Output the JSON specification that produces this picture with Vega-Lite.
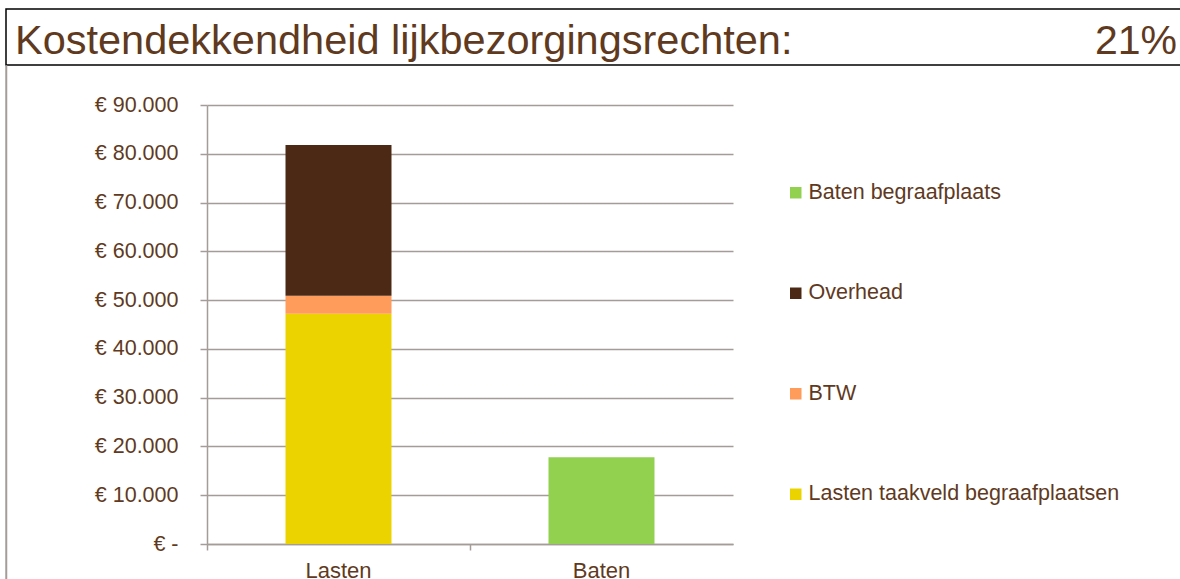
{
  "$schema": "https://vega.github.io/schema/vega-lite/v6.json",
  "autosize": {"type": "none"},
  "padding": {"left": 6, "top": 9, "right": 1174, "bottom": 570},
  "config": {
    "font": "Liberation Sans",
    "locale": {"number": {"decimal": ",", "thousands": ".", "grouping": [3], "currency": ["€ ", ""]}},
    "view": {"stroke": null},
    "axis": {
      "labelFont": "Liberation Sans",
      "labelColor": "#5F3A1E",
      "labelFontSize": 21.5,
      "domainColor": "#A39C99",
      "tickColor": "#A39C99",
      "gridColor": "#A39C99",
      "domainWidth": 1.5,
      "tickWidth": 1.5,
      "gridWidth": 1.5,
      "title": null
    },
    "legend": {
      "labelFont": "Liberation Sans",
      "labelColor": "#5F3A1E",
      "labelFontSize": 21.5,
      "labelLimit": 500
    }
  },
  "spacing": -1.5,
  "vconcat": [
    {
      "width": 1180,
      "height": 56,
      "view": {"stroke": "#000000", "strokeWidth": 1.5},
      "layer": [
        {
          "data": {"values": [{"tekst": "Kostendekkendheid lijkbezorgingsrechten:"}]},
          "mark": {"type": "text", "align": "left", "baseline": "alphabetic", "dx": 9, "fontSize": 41.5, "color": "#5F3A1E", "font": "Liberation Sans"},
          "encoding": {
            "x": {"datum": 0, "type": "quantitative", "scale": {"domain": [0, 1]}, "axis": null},
            "y": {"datum": 0.196, "type": "quantitative", "scale": {"domain": [0, 1]}, "axis": null},
            "text": {"field": "tekst"}
          }
        },
        {
          "data": {"values": [{"tekst": "21%"}]},
          "mark": {"type": "text", "align": "right", "baseline": "alphabetic", "dx": -9, "fontSize": 41, "color": "#5F3A1E", "font": "Liberation Sans"},
          "encoding": {
            "x": {"datum": 1, "type": "quantitative", "scale": {"domain": [0, 1]}, "axis": null},
            "y": {"datum": 0.196, "type": "quantitative", "scale": {"domain": [0, 1]}, "axis": null},
            "text": {"field": "tekst"}
          }
        }
      ]
    },
    {
      "spacing": 0,
      "hconcat": [
        {
          "width": 0.5,
          "height": 520,
          "view": {"stroke": "#A39C99", "strokeWidth": 1.5},
          "data": {"values": []},
          "mark": {"type": "text"},
          "encoding": {}
        },
        {
          "spacing": 27,
          "vconcat": [
            {
              "width": 1,
              "height": 1,
              "data": {"values": []},
              "mark": {"type": "text"},
              "encoding": {}
            },
            {
              "width": 526,
              "height": 439,
              "data": {
                "values": [
                  {"kant": "Lasten", "post": "Lasten taakveld begraafplaatsen", "bedrag": 47200, "volgorde": 1},
                  {"kant": "Lasten", "post": "BTW", "bedrag": 3700, "volgorde": 2},
                  {"kant": "Lasten", "post": "Overhead", "bedrag": 30900, "volgorde": 3},
                  {"kant": "Baten", "post": "Baten begraafplaats", "bedrag": 17800, "volgorde": 1}
                ]
              },
              "mark": {"type": "bar"},
              "encoding": {
                "x": {
                  "field": "kant",
                  "type": "nominal",
                  "sort": ["Lasten", "Baten"],
                  "scale": {"paddingInner": 0.597, "paddingOuter": 0.2985},
                  "axis": {"labelAngle": 0, "tickSize": 6, "bandPosition": -0.7406, "labelPadding": 10, "labelFontSize": 22, "grid": false}
                },
                "y": {
                  "field": "bedrag",
                  "type": "quantitative",
                  "stack": "zero",
                  "scale": {"domain": [0, 90000], "nice": false},
                  "axis": {
                    "values": [0, 10000, 20000, 30000, 40000, 50000, 60000, 70000, 80000, 90000],
                    "format": ",.0f",
                    "labelExpr": "datum.value === 0 ? '€ -\u2007' : '€ ' + datum.label",
                    "tickSize": 7,
                    "labelPadding": 22,
                    "grid": true,
                    "minExtent": 199
                  }
                },
                "color": {
                  "field": "post",
                  "type": "nominal",
                  "scale": {
                    "domain": ["Baten begraafplaats", "Overhead", "BTW", "Lasten taakveld begraafplaatsen"],
                    "range": ["#92D050", "#4B2915", "#FF9B5B", "#EBD300"]
                  },
                  "legend": {
                    "title": null,
                    "orient": "none",
                    "legendX": 779,
                    "legendY": 173,
                    "symbolType": "square",
                    "symbolSize": 132,
                    "symbolStrokeWidth": 0,
                    "labelOffset": 2,
                    "rowPadding": 77.5,
                    "padding": 0
                  }
                },
                "order": {"field": "volgorde", "type": "quantitative"}
              }
            }
          ]
        }
      ]
    }
  ]
}
